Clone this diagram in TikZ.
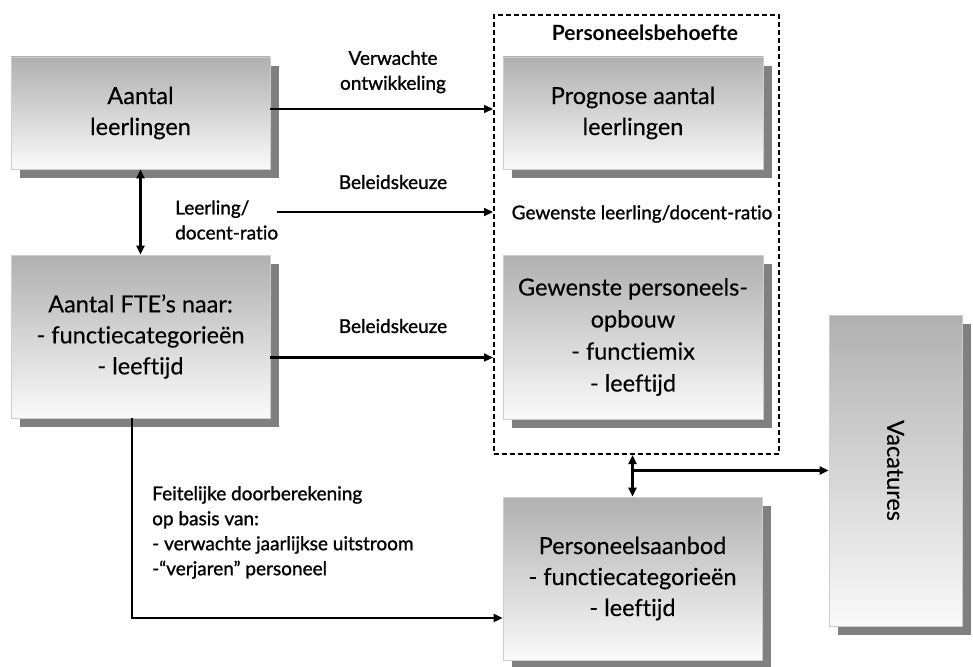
\documentclass[tikz,border=0pt]{standalone}
\usepackage{fontspec}
\setmainfont{Lato}[Ligatures=NoCommon]
\newfontfamily\boxfont{Lato}[Ligatures=NoCommon, FakeBold=0.3]
\newfontfamily\lblfont{Lato}[Ligatures=NoCommon, FakeBold=1.2]
\usetikzlibrary{shadows,arrows.meta,calc}
\definecolor{topg}{RGB}{176,176,176}
\definecolor{botg}{RGB}{250,250,250}
\definecolor{edgeg}{RGB}{205,205,205}
\definecolor{shadg}{RGB}{128,128,128}
\tikzset{
  boxnode/.style={draw=edgeg, line width=0.8pt, top color=topg, bottom color=botg,
    drop shadow={shadow xshift=9pt, shadow yshift=-9pt, fill=shadg, opacity=1},
    align=center, font=\boxfont\fontsize{23.5}{31}\selectfont, inner sep=2pt},
  lbl/.style={font=\lblfont\fontsize{19}{25}\selectfont, inner sep=0pt},
  conn/.style={line width=2.2pt, -{Triangle[length=9pt,width=8pt]}},
  dconn/.style={line width=2.2pt, {Triangle[length=9pt,width=8pt]}-{Triangle[length=9pt,width=8pt]}},
  dashbox/.style={draw=black, line width=2pt, dash pattern=on 5pt off 3pt, inner sep=0pt}
}
\begin{document}
\begin{tikzpicture}[x=1pt,y=-1pt]
\useasboundingbox (0,0) rectangle (973,666);
% dashed group
\node[dashbox, minimum width=285pt, minimum height=439pt, anchor=north west] (dash) at (493,14) {};
\node[lbl, font=\fontsize{21}{25}\bfseries\selectfont] (pbh) at (645,33) {Personeelsbehoefte};
% boxes
\node[boxnode, minimum width=259pt, minimum height=112pt] (b1) at (140.5,113) {Aantal\\leerlingen};
\node[boxnode, minimum width=259pt, minimum height=163pt] (b2) at (140.5,336.5) {Aantal FTE’s naar:\\- functiecategorieën\\- leeftijd};
\node[boxnode, minimum width=260pt, minimum height=112pt] (b3) at (633,113) {Prognose aantal\\leerlingen};
\node[boxnode, minimum width=260pt, minimum height=164pt, font=\boxfont\fontsize{23.5}{32}\selectfont] (b4) at (633,337) {Gewenste personeels-\\opbouw\\- functiemix\\- leeftijd};
\node[boxnode, minimum width=259pt, minimum height=163pt] (b5) at (632.5,578.5) {Personeelsaanbod\\- functiecategorieën\\- leeftijd};
\node[boxnode, minimum width=133pt, minimum height=311pt] (b6) at (895.5,470.5) {};
\node[font=\boxfont\fontsize{23.5}{31}\selectfont, rotate=-90] (vac) at (b6.center) {Vacatures};
% labels
\node[lbl, align=center] (l1) at (393,72) {Verwachte\\ontwikkeling};
\node[lbl] (l2) at (393,182) {Beleidskeuze};
\node[lbl, align=left, anchor=west] (l3) at (175,220) {Leerling/\\docent-ratio};
\node[lbl] (l4) at (642,214) {Gewenste leerling/docent-ratio};
\node[lbl] (l5) at (393,326) {Beleidskeuze};
\node[lbl, align=left, anchor=north west] (l6) at (152,486) {Feitelijke doorberekening\\op basis van:\\- verwachte jaarlijkse uitstroom\\-“verjaren” personeel};
% connectors
\draw[conn] ([yshift=4pt]b1.east) -- ([yshift=4pt]b1.east -| dash.west);
\draw[dconn] (b1.south) -- (b2.north);
\coordinate (lr) at (277,212);
\draw[conn] (lr) -- (lr -| dash.west);
\draw[conn] ([yshift=-21pt]b2.east) -- ([yshift=-21pt]b2.east -| dash.west);
\draw[conn] ([xshift=-8.5pt]b2.south) |- ([yshift=-39.5pt]b5.west);
\draw[dconn] (b5.north |- dash.south) -- (b5.north);
\draw[conn] (b5.north |- b6.west) -- (b6.west);
\end{tikzpicture}
\end{document}
